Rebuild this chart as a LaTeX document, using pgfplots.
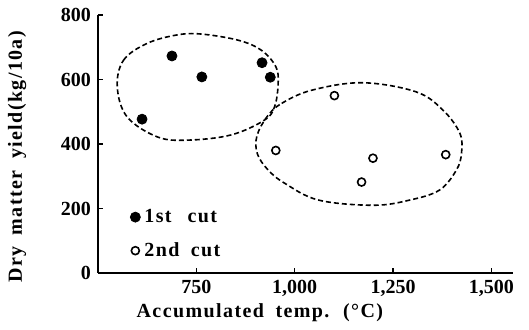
\documentclass[border=0pt]{standalone}
\usepackage{fontspec}
\setmainfont{Liberation Serif}
\newfontfamily\lab{Liberation Serif}[LetterSpace=7, WordSpace=1.8]
\usepackage{pgfplots}
\pgfplotsset{compat=1.18}
\begin{document}
\begin{tikzpicture}
\begin{axis}[name=ax, scale only axis, width=207.5pt, height=129pt,
 xmin=500, xmax=1555, ymin=0, ymax=800,
 axis x line=bottom, axis y line=left,
 axis line style={-, line width=1pt},
 xtick={750,1000,1250,1500}, ytick={0,200,400,600,800},
 tick align=inside, major tick length=2.5pt,
 tick style={line width=0.8pt, black},
 /pgf/number format/1000 sep={,},
 /pgf/number format/assume math mode=true,
 ticklabel style={font=\bfseries},
 xlabel={Accumulated temp. (°C)},
 ylabel={Dry matter yield(kg/10a)},
 label style={font=\lab\bfseries},
 xlabel style={at={(axis description cs:0.39,-0.155)}, anchor=center},
 ylabel style={at={(axis description cs:-0.195,0.45)}, anchor=center},
 legend style={at={(axis description cs:0.077,0.265)}, anchor=north west,
   draw=none, fill=none, font=\lab\bfseries, row sep=4.5pt,
   inner xsep=0pt, inner ysep=0pt},
 legend cell align=left,
 clip=false]
\addplot[only marks, mark=*, mark size=2.5pt, black] coordinates {
 (612,477) (688,673) (764,608) (917,652) (938,607)};
\addlegendentry{1st\hspace{0.8em}cut}
\addplot[only marks, mark=o, mark size=2pt, black, mark options={line width=0.8pt}] coordinates {
 (1101,550) (952,380) (1199,356) (1170,282) (1384,367)};
\addlegendentry{2nd cut}
\addplot[black, line width=0.8pt, dash pattern=on 2.5pt off 1.5pt, smooth cycle, tension=0.6, forget plot] coordinates {
 (549,577) (565,660) (625,712) (700,738) (762,741) (856,722) (915,691)
 (952,640) (958,588) (949,516) (923,474) (838,428) (728,412) (651,422) (574,484)};
\addplot[black, line width=0.8pt, dash pattern=on 2.5pt off 1.5pt, smooth cycle, tension=0.6, forget plot] coordinates {
 (930,485) (967,526) (1044,567) (1172,590) (1308,562)
 (1377,505) (1420,433) (1424,371) (1411,319) (1368,257) (1292,226) (1200,210)
 (1061,226) (975,278) (932,320) (905,370) (904,425)};
\end{axis}
\path (ax.south west) ++(-49pt,136.5pt) rectangle ++(264.5pt,-165pt);
\end{tikzpicture}
\end{document}
